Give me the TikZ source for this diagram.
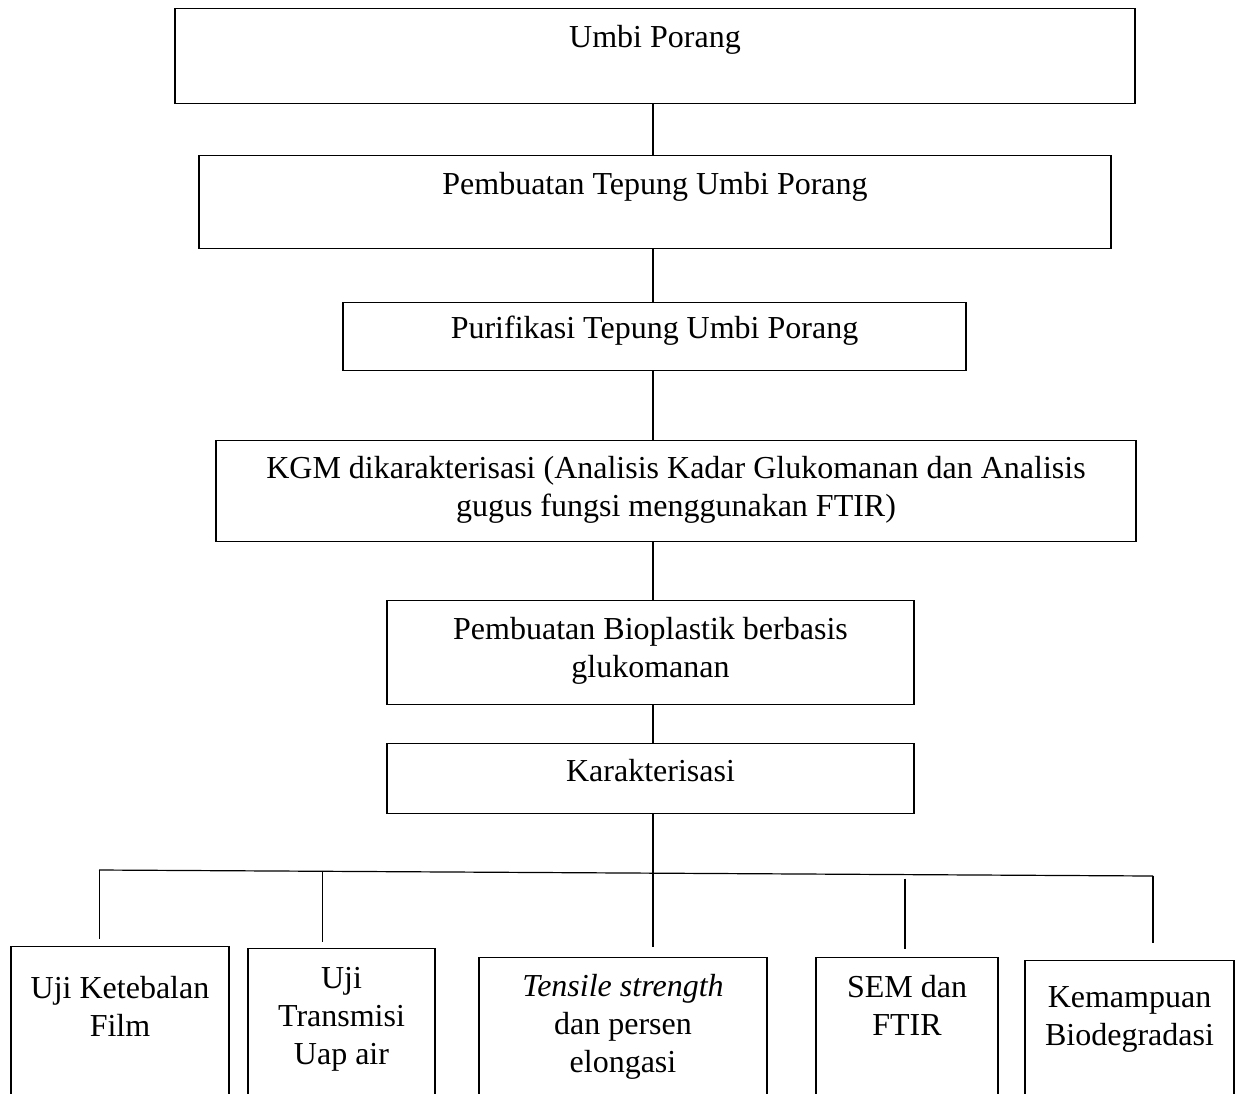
\documentclass[tikz,border=0pt]{standalone}
\usepackage{fontspec}
\setmainfont{Liberation Serif}
\usetikzlibrary{calc}
\tikzset{
stage/.style={draw, line width=0.6pt, anchor=north, align=center, inner sep=0, font=\fontsize{16}{19}\selectfont}, test/.style={stage}, link/.style={line width=0.6pt}}

\begin{document}
\begin{tikzpicture}[x=0.5pt, y=-0.5pt]
\useasboundingbox (0,0) rectangle (1236,1093);
\clip (0,0) rectangle (1236,1093);
\coordinate (spine) at (653,0);
% main column
\node [stage, minimum width=480pt, text height=19.5pt, text depth=28pt] at (655,8) (umbi) {Umbi Porang};
\node [stage, minimum width=456pt, text height=19.5pt, text depth=27pt] at (655,155) (tepung) {Pembuatan Tepung Umbi Porang};
\node [stage, minimum width=311.5pt, text height=18pt, text depth=16pt] at (654.5,302) (purifikasi) {Purifikasi Tepung Umbi Porang};
\node [stage, minimum width=460pt, text height=38pt, text depth=12.5pt] at (676,440) (kgm) {KGM dikarakterisasi (Analisis Kadar Glukomanan dan Analisis\\gugus fungsi menggunakan FTIR)};
\node [stage, minimum width=263.5pt, text height=38.5pt, text depth=13.5pt] at (650.5,600) (bioplastik) {Pembuatan Bioplastik berbasis\\glukomanan};
\node [stage, minimum width=263.5pt, text height=19pt, text depth=16pt] at (650.5,743) (karakter) {Karakterisasi};
\draw [link] (umbi.south -| spine) -- (tepung.north -| spine);
\draw [link] (tepung.south -| spine) -- (purifikasi.north -| spine);
\draw [link] (purifikasi.south -| spine) -- (kgm.north -| spine);
\draw [link] (kgm.south -| spine) -- (bioplastik.north -| spine);
\draw [link] (bioplastik.south -| spine) -- (karakter.north -| spine);
% tests
\node [test, minimum width=109pt, text height=45pt, text depth=32pt] at (120,946) (film) {Uji Ketebalan\\Film};
\node [test, minimum width=93.5pt, text height=58pt, text depth=18pt] at (341.5,948) (uap) {Uji\\Transmisi\\Uap air};
\node [test, minimum width=144pt, text height=57.5pt, text depth=14pt] at (623,957) (tensile) {\textit{Tensile strength}\\dan persen\\elongasi};
\node [test, minimum width=91pt, text height=39pt, text depth=32.5pt] at (907,957) (sem) {SEM dan\\FTIR};
\node [test, minimum width=104.5pt, text height=42.5pt, text depth=27.5pt] at (1129.5,960) (biodeg) {Kemampuan\\Biodegradasi};
\coordinate (bar-l) at (99,870);
\coordinate (bar-r) at (1153,876);
\draw [link] (bar-l) -- (bar-r);
\draw [link, shorten >=5pt] (karakter.south -| spine) -- (tensile.north -| spine);
\foreach \n/\x/\a/\b in {film/99/0/3.5, uap/322/0/3, sem/905/2/4, biodeg/1153/0/8.5}{
  \coordinate (drop-\n) at ($(bar-l)!(\x,900)!(bar-r)$);
  \draw [link, shorten <=\a pt, shorten >=\b pt] (drop-\n) -- (drop-\n |- \n.north);
}
\end{tikzpicture}
\end{document}
